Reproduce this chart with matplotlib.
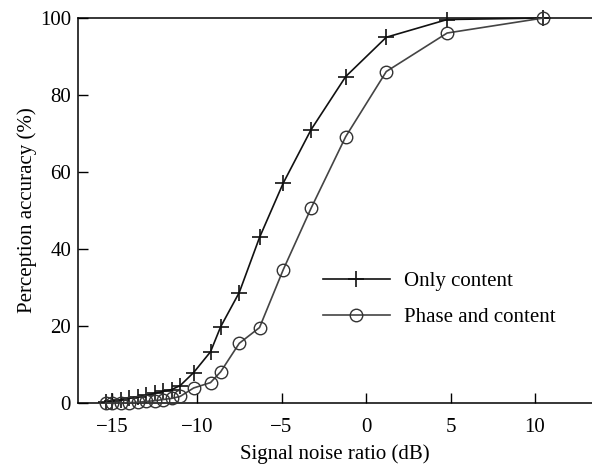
import matplotlib
matplotlib.use("Agg")
import matplotlib.pyplot as plt

snr = [-15.4, -15.0, -14.5, -14.0, -13.5, -13.0, -12.5, -12.0, -11.5, -11.0,
       -10.2, -9.2, -8.6, -7.5, -6.3, -4.9, -3.25, -1.2, 1.2, 4.8, 10.5]
only_content = [0.3, 0.5, 0.8, 1.2, 1.6, 2.0, 2.5, 3.0, 3.5, 4.5,
                7.9, 13.3, 19.8, 28.7, 43.0, 57.1, 71.0, 84.8, 95.0, 99.6, 100.0]
phase_content = [0.0, 0.0, 0.0, 0.1, 0.2, 0.4, 0.6, 0.9, 1.2, 1.7,
                 3.9, 5.3, 8.1, 15.5, 19.6, 34.6, 50.6, 69.2, 86.1, 96.1, 100.0]
xticks = [-15, -10, -5, 0, 5, 10]
yticks = [0, 20, 40, 60, 80, 100]

plt.rcParams['font.family'] = ['Liberation Serif', 'DejaVu Serif']
plt.rcParams['font.size'] = 15

fig = plt.figure(figsize=(5.92, 4.73), dpi=100)
ax = fig.add_axes([78/592, 70/473, 1 - 78/592, (403-18)/473])

ax.plot(snr, only_content, color='#111111', lw=1.2, marker='+', ms=11, mew=1.2,
        clip_on=False, label='Only content', zorder=3)
ax.plot(snr, phase_content, color='#444444', lw=1.2, marker='o', ms=9, mew=1.0,
        mfc='none', mec='#333333', clip_on=False, label='Phase and content', zorder=3)

ax.set_xlim(-17.04, 13.37)
ax.set_ylim(0, 100)
ax.set_xticks(xticks)
ax.set_yticks(yticks)
ax.set_xticklabels([f"\u2212{abs(t)}" if t < 0 else str(t) for t in xticks])
ax.tick_params(direction='in', length=7, width=1, top=False, right=False)
ax.tick_params(axis='x', pad=11)
ax.tick_params(axis='y', pad=5)
for s in ax.spines.values():
    s.set_linewidth(1.1)
ax.spines['right'].set_visible(False)

ax.set_xlabel('Signal noise ratio (dB)', labelpad=5)
ax.set_ylabel('Perception accuracy (%)', labelpad=2)

ax.legend(loc='upper left', bbox_to_anchor=(0.44, 0.39), frameon=False,
          handlelength=3.2, handletextpad=0.7, labelspacing=0.8, fontsize=15)

fig.savefig('out.png', dpi=100)
